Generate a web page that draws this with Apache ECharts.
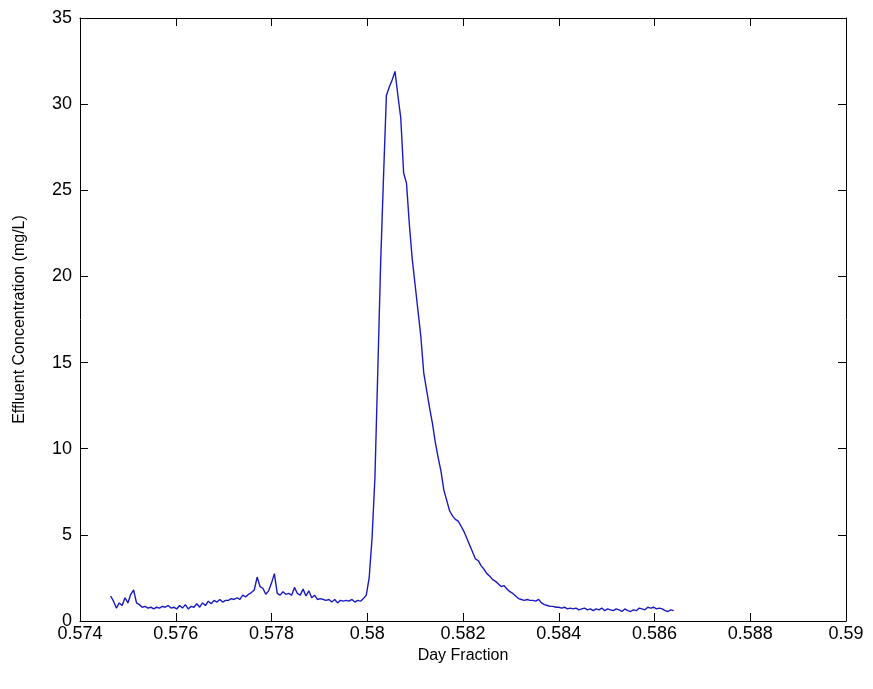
<!DOCTYPE html>
<html>
<head>
<meta charset="utf-8">
<script src="https://cdn.jsdelivr.net/npm/echarts@6/dist/echarts.min.js"></script>
<style>
  html, body { margin: 0; padding: 0; background: #fff; }
  #main { width: 873px; height: 689px; }
</style>
</head>
<body>
<div id="main"></div>
<script>
var xTicks = [0.574, 0.576, 0.578, 0.58, 0.582, 0.584, 0.586, 0.588, 0.59];
var yTicks = [0, 5, 10, 15, 20, 25, 30, 35];

// sample times (day fraction)
var dayFrac = [
    0.57464, 0.57470, 0.57476, 0.57482, 0.57488, 0.57494, 0.57500, 0.57506, 0.57512, 0.57518,
    0.57524, 0.57530, 0.57536, 0.57542, 0.57548, 0.57554, 0.57560, 0.57566, 0.57572, 0.57578,
    0.57584, 0.57590, 0.57596, 0.57602, 0.57608, 0.57614, 0.57620, 0.57626, 0.57632, 0.57638,
    0.57644, 0.57650, 0.57656, 0.57662, 0.57668, 0.57674, 0.57680, 0.57686, 0.57692, 0.57698,
    0.57704, 0.57710, 0.57716, 0.57722, 0.57728, 0.57734, 0.57740, 0.57746, 0.57752, 0.57758,
    0.57764, 0.57770, 0.57776, 0.57782, 0.57788, 0.57794, 0.57800, 0.57806, 0.57812, 0.57818,
    0.57824, 0.57830, 0.57836, 0.57842, 0.57848, 0.57854, 0.57860, 0.57866, 0.57872, 0.57878,
    0.57884, 0.57890, 0.57896, 0.57902, 0.57908, 0.57914, 0.57920, 0.57926, 0.57932, 0.57938,
    0.57944, 0.57950, 0.57956, 0.57962, 0.57968, 0.57974, 0.57980, 0.57986, 0.57992, 0.57998,
    0.58004, 0.58010, 0.58016, 0.58022, 0.58028, 0.58034, 0.58040, 0.58046, 0.58052, 0.58058,
    0.58064, 0.58070, 0.58076, 0.58082, 0.58088, 0.58094, 0.58100, 0.58106, 0.58112, 0.58118,
    0.58124, 0.58130, 0.58136, 0.58142, 0.58148, 0.58154, 0.58160, 0.58166, 0.58172, 0.58178,
    0.58184, 0.58190, 0.58196, 0.58202, 0.58208, 0.58214, 0.58220, 0.58226, 0.58232, 0.58238,
    0.58244, 0.58250, 0.58256, 0.58262, 0.58268, 0.58274, 0.58280, 0.58286, 0.58292, 0.58298,
    0.58304, 0.58310, 0.58316, 0.58322, 0.58328, 0.58334, 0.58340, 0.58346, 0.58352, 0.58358,
    0.58364, 0.58370, 0.58376, 0.58382, 0.58388, 0.58394, 0.58400, 0.58406, 0.58412, 0.58418,
    0.58424, 0.58430, 0.58436, 0.58442, 0.58448, 0.58454, 0.58460, 0.58466, 0.58472, 0.58478,
    0.58484, 0.58490, 0.58496, 0.58502, 0.58508, 0.58514, 0.58520, 0.58526, 0.58532, 0.58538,
    0.58544, 0.58550, 0.58556, 0.58562, 0.58568, 0.58574, 0.58580, 0.58586, 0.58592, 0.58598,
    0.58604, 0.58610, 0.58616, 0.58622, 0.58628, 0.58634, 0.58640
];

// effluent concentration (mg/L)
var concentration = [
    1.45, 1.15, 0.75, 1.05, 0.90, 1.35, 1.05, 1.55, 1.80, 1.05,
    0.95, 0.80, 0.85, 0.75, 0.80, 0.70, 0.80, 0.75, 0.85, 0.80,
    0.90, 0.75, 0.80, 0.70, 0.90, 0.75, 0.95, 0.70, 0.85, 0.80,
    1.00, 0.80, 1.05, 0.90, 1.15, 1.00, 1.20, 1.10, 1.25, 1.10,
    1.20, 1.20, 1.30, 1.25, 1.35, 1.25, 1.50, 1.40, 1.55, 1.65,
    1.80, 2.55, 2.00, 1.90, 1.55, 1.75, 2.20, 2.75, 1.60, 1.50,
    1.70, 1.55, 1.60, 1.50, 1.95, 1.60, 1.50, 1.85, 1.45, 1.75,
    1.35, 1.50, 1.25, 1.30, 1.25, 1.20, 1.25, 1.10, 1.25, 1.05,
    1.20, 1.15, 1.20, 1.15, 1.25, 1.10, 1.20, 1.15, 1.30, 1.50,
    2.50, 4.80, 8.30, 14.5, 20.8, 25.8, 30.5, 31.0, 31.4, 31.9,
    30.5, 29.2, 26.0, 25.4, 23.0, 21.0, 19.5, 18.0, 16.5, 14.4,
    13.4, 12.4, 11.5, 10.4, 9.50, 8.70, 7.60, 7.00, 6.40, 6.10,
    5.90, 5.80, 5.50, 5.20, 4.80, 4.40, 4.00, 3.60, 3.50, 3.20,
    3.00, 2.75, 2.60, 2.40, 2.30, 2.15, 2.00, 2.05, 1.85, 1.70,
    1.60, 1.45, 1.30, 1.25, 1.20, 1.25, 1.20, 1.20, 1.15, 1.25,
    1.05, 0.95, 0.90, 0.85, 0.85, 0.80, 0.80, 0.75, 0.80, 0.70,
    0.75, 0.70, 0.75, 0.65, 0.70, 0.75, 0.65, 0.70, 0.60, 0.70,
    0.65, 0.75, 0.60, 0.70, 0.65, 0.60, 0.70, 0.65, 0.55, 0.70,
    0.60, 0.55, 0.65, 0.60, 0.75, 0.70, 0.65, 0.80, 0.75, 0.80,
    0.70, 0.75, 0.70, 0.60, 0.55, 0.65, 0.60
];

var myChart = echarts.init(document.getElementById('main'));

var points = dayFrac.map(function(x, i) {
    return [x, concentration[i]];
});

var font = 'Liberation Sans, Arial, sans-serif';
var boxLine = { show: true, onZero: false, lineStyle: { color: '#000', width: 1 } };
var inTick = { show: true, inside: true, length: 8, lineStyle: { color: '#000', width: 1 } };

var xMin = xTicks[0], xMax = xTicks[xTicks.length - 1];
var xStep = xTicks[1] - xTicks[0];
var yMin = yTicks[0], yMax = yTicks[yTicks.length - 1];
var yStep = yTicks[1] - yTicks[0];

option = {
    backgroundColor: '#fff',
    animation: false,
    grid: {
        left: 80,
        right: 27,
        top: 18,
        bottom: 68
    },
    xAxis: [{
        type: 'value',
        position: 'bottom',
        min: xMin,
        max: xMax,
        interval: xStep,
        name: 'Day Fraction',
        nameLocation: 'middle',
        nameGap: 27,
        nameTextStyle: { color: '#000', fontSize: 16, fontFamily: font },
        axisLine: boxLine,
        axisTick: inTick,
        splitLine: { show: false },
        axisLabel: {
            color: '#000',
            fontSize: 18,
            fontFamily: font,
            margin: 4,
            formatter: function(v) {
                return String(parseFloat(v.toFixed(3)));
            }
        }
    }, {
        type: 'value',
        position: 'top',
        min: xMin,
        max: xMax,
        interval: xStep,
        axisLine: boxLine,
        axisTick: inTick,
        axisLabel: { show: false },
        splitLine: { show: false }
    }],
    yAxis: [{
        type: 'value',
        position: 'left',
        min: yMin,
        max: yMax,
        interval: yStep,
        name: 'Effluent Concentration (mg/L)',
        nameLocation: 'middle',
        nameGap: 52,
        nameTextStyle: { color: '#000', fontSize: 16, fontFamily: font },
        axisLine: boxLine,
        axisTick: inTick,
        splitLine: { show: false },
        axisLabel: {
            color: '#000',
            fontSize: 18,
            fontFamily: font,
            margin: 8
        }
    }, {
        type: 'value',
        position: 'right',
        min: yMin,
        max: yMax,
        interval: yStep,
        axisLine: boxLine,
        axisTick: inTick,
        axisLabel: { show: false },
        splitLine: { show: false }
    }],
    series: [{
        type: 'line',
        data: points,
        xAxisIndex: 0,
        yAxisIndex: 0,
        showSymbol: false,
        symbol: 'none',
        lineStyle: { color: '#1a1ac4', width: 1.4 }
    }]
};
myChart.setOption(option);
</script>
</body>
</html>
